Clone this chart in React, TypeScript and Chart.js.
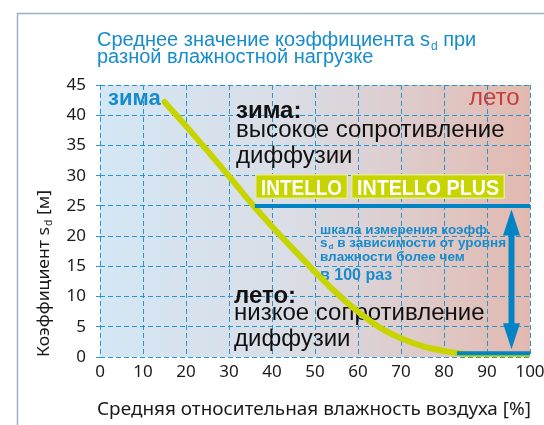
import React, { useEffect, useRef } from "react";
import { Chart, registerables } from "chart.js";
Chart.register(...registerables);

// ---- data ----
const humidity = [15, 20, 25, 30, 35, 40, 45, 50, 55, 60, 65, 70, 75, 80, 85, 90, 95, 100];
const sdValues = [42.2, 38.2, 34.1, 29.9, 25.6, 21.6, 17.8, 14.1, 10.6, 7.5, 4.9, 3.1, 1.8, 1.0, 0.5, 0.25, 0.1, 0];
const upperRangeX = [36, 100];
const upperRangeY = [25, 25];
const lowerRangeX = [83, 100];
const lowerRangeY = [0.6, 0.6];
const arrowX = [95.7, 95.7];
const arrowY = [24.4, 1.3];
const xMin = 0, xMax = 100, xStep = 10;
const yMin = 0, yMax = 45, yStep = 5;

const titleLine1 = ["Среднее значение коэффициента s", "d", " при"];
const titleLine2 = "разной влажностной нагрузке";
const yTitle = ["Коэффициент s", "d", " [м]"];
const xTitle = "Средняя относительная влажность воздуха [%]";
const winterTag = "зима";
const summerTag = "лето";
const winterText = ["зима:", "высокое сопротивление", "диффузии"];
const summerText = ["лето:", "низкое сопротивление", "диффузии"];
const productLabels = ["INTELLO", "INTELLO PLUS"];
const scaleNote = ["шкала измерения коэфф.", "в зависимости от уровня", "влажности более чем", "в 100 раз"];

const BLUE = "rgb(0,132,196)";
const TEXT_BLUE = "rgb(22,140,204)";
const YELLOW = "rgb(200,212,0)";
const SANS = '"Liberation Sans", Arial, sans-serif';
const TICKFONT = '"Noto Sans", sans-serif';

function drawSub(ctx: CanvasRenderingContext2D, parts: string[], x: number, y: number, size: number, weight = "", font = SANS) {
  ctx.font = `${weight} ${size}px ${font}`;
  ctx.fillText(parts[0], x, y);
  let w = ctx.measureText(parts[0]).width;
  ctx.font = `${weight} ${Math.round(size * 0.6)}px ${font}`;
  ctx.fillText(parts[1], x + w + 1, y + size * 0.18);
  w += ctx.measureText(parts[1]).width + 1;
  ctx.font = `${weight} ${size}px ${font}`;
  ctx.fillText(parts[2], x + w, y);
  return w + ctx.measureText(parts[2]).width;
}

function fitText(ctx: CanvasRenderingContext2D, text: string, cx: number, y: number, width: number) {
  const m = ctx.measureText(text).width;
  const s = width / m;
  ctx.save();
  ctx.translate(cx, y);
  ctx.scale(s, 1);
  ctx.textAlign = "center";
  ctx.fillText(text, 0, 0);
  ctx.restore();
}

const decor = {
  id: "decor",
  beforeDraw(chart: any) {
    const { ctx, chartArea: a } = chart;
    ctx.save();
    ctx.fillStyle = "#fff";
    ctx.fillRect(0, 0, chart.width, chart.height);
    const g = ctx.createLinearGradient(a.left, 0, a.right, 0);
    g.addColorStop(0, "rgb(212,231,245)");
    g.addColorStop(0.45, "rgb(218,221,229)");
    g.addColorStop(1, "rgb(226,185,176)");
    ctx.fillStyle = g;
    ctx.fillRect(a.left, a.top, a.right - a.left, a.bottom - a.top);
    // frame
    ctx.strokeStyle = "rgb(155,178,198)";
    ctx.lineWidth = 1.5;
    ctx.strokeRect(17.5, 13.5, 700, 700);
    // title
    ctx.fillStyle = TEXT_BLUE;
    ctx.textBaseline = "alphabetic";
    drawSub(ctx, titleLine1, 97, 46, 20);
    ctx.font = `20px ${SANS}`;
    ctx.fillText(titleLine2, 97, 63);
    // axis titles
    ctx.fillStyle = "#1a1a1a";
    ctx.save();
    ctx.translate(49, 357);
    ctx.rotate(-Math.PI / 2);
    ctx.textAlign = "left";
    // measure and compress to target length
    ctx.save();
    const w = (() => {
      ctx.globalAlpha = 0;
      const ww = drawSub(ctx, yTitle, 0, 0, 17, "", TICKFONT);
      ctx.globalAlpha = 1;
      return ww;
    })();
    ctx.restore();
    ctx.scale(167 / w, 1);
    ctx.fillStyle = "#1a1a1a";
    drawSub(ctx, yTitle, 0, 0, 17, "", TICKFONT);
    ctx.restore();
    ctx.font = `18px ${TICKFONT}`;
    ctx.fillStyle = "#1a1a1a";
    fitText(ctx, xTitle, 314, 415, 434);
    ctx.restore();
  },
  beforeDatasetsDraw(chart: any) {
    const { ctx } = chart;
    ctx.save();
    ctx.textBaseline = "alphabetic";
    ctx.textAlign = "left";
    // season tags
    ctx.fillStyle = TEXT_BLUE;
    ctx.font = `bold 22px ${SANS}`;
    ctx.fillText(winterTag, 108, 105);
    ctx.fillStyle = "rgb(196,62,62)";
    ctx.font = `24px ${SANS}`;
    ctx.fillText(summerTag, 469, 105);
    // winter block
    ctx.fillStyle = "#111";
    ctx.font = `bold 24px ${SANS}`;
    ctx.fillText(winterText[0], 236, 118);
    ctx.font = `24px ${SANS}`;
    ctx.fillText(winterText[1], 236, 137);
    ctx.fillText(winterText[2], 236, 163);
    // summer block
    ctx.font = `bold 24px ${SANS}`;
    ctx.fillText(summerText[0], 234, 303);
    ctx.font = `24px ${SANS}`;
    ctx.fillText(summerText[1], 234, 320);
    ctx.fillText(summerText[2], 234, 346);
    // product boxes
    const boxes = [[255, 348], [351, 505]];
    boxes.forEach(([l, r], i) => {
      ctx.fillStyle = YELLOW;
      ctx.fillRect(l, 174, r - l, 25);
      ctx.strokeStyle = "rgb(228,234,150)";
      ctx.lineWidth = 1.5;
      ctx.strokeRect(l + 0.75, 174.75, r - l - 1.5, 23.5);
      ctx.fillStyle = "#fff";
      ctx.font = `bold 22px ${SANS}`;
      fitText(ctx, productLabels[i], (l + r) / 2, 195, r - l - 12);
    });
    // scale note
    ctx.fillStyle = TEXT_BLUE;
    ctx.textAlign = "left";
    ctx.font = `bold 13.5px ${SANS}`;
    ctx.fillText(scaleNote[0], 320, 234);
    drawSub(ctx, ["s", "d", " " + scaleNote[1]], 320, 247, 13.5, "bold");
    ctx.font = `bold 13.5px ${SANS}`;
    ctx.fillText(scaleNote[2], 320, 260.5);
    ctx.font = `bold 16px ${SANS}`;
    ctx.fillText(scaleNote[3], 320, 280);
    ctx.restore();
  },
  afterDatasetsDraw(chart: any) {
    const { ctx } = chart;
    const pts = chart.getDatasetMeta(3).data;
    if (!pts || pts.length < 2) return;
    const top = pts[0], bot = pts[1];
    const x = top.x;
    const hl = 26, hw = 8.5;
    ctx.save();
    ctx.strokeStyle = BLUE;
    ctx.fillStyle = BLUE;
    ctx.lineWidth = 6;
    ctx.beginPath();
    ctx.moveTo(x, top.y + hl - 2);
    ctx.lineTo(x, bot.y - hl + 2);
    ctx.stroke();
    ctx.beginPath();
    ctx.moveTo(x, top.y);
    ctx.lineTo(x - hw, top.y + hl);
    ctx.lineTo(x + hw, top.y + hl);
    ctx.closePath();
    ctx.fill();
    ctx.beginPath();
    ctx.moveTo(x, bot.y);
    ctx.lineTo(x - hw, bot.y - hl);
    ctx.lineTo(x + hw, bot.y - hl);
    ctx.closePath();
    ctx.fill();
    ctx.restore();
  },
};

const App = () => {
  const ref = useRef<HTMLCanvasElement>(null);
  useEffect(() => {
    const canvas = ref.current!;
    const toPts = (xs: number[], ys: number[]) => xs.map((x, i) => ({ x, y: ys[i] }));
    const chart = new Chart(canvas, {
      type: "line",
      data: {
        datasets: [
          { data: toPts(humidity, sdValues), borderColor: YELLOW, borderWidth: 6, pointRadius: 0, cubicInterpolationMode: "monotone", borderCapStyle: "round", order: 3 } as any,
          { data: toPts(upperRangeX, upperRangeY), borderColor: BLUE, borderWidth: 4, pointRadius: 0, order: 1 },
          { data: toPts(lowerRangeX, lowerRangeY), borderColor: BLUE, borderWidth: 4, pointRadius: 0, order: 1 },
          { data: toPts(arrowX, arrowY), showLine: false, pointRadius: 0, order: 0 },
        ],
      },
      options: {
        responsive: false,
        animation: false,
        devicePixelRatio: 1,
        layout: { padding: { top: 85, left: 0, right: 14, bottom: 0 } },
        plugins: { legend: { display: false }, tooltip: { enabled: false }, title: { display: false } },
        scales: {
          x: {
            type: "linear",
            min: xMin,
            max: xMax,
            ticks: { stepSize: xStep, color: "#1a1a1a", font: { family: TICKFONT, size: 17 }, padding: 5, maxRotation: 0 },
            grid: { color: "rgba(30,145,210,0.95)", lineWidth: 1, drawTicks: false },
            border: { display: false, dash: [5, 3] },
            afterFit: (s: any) => { s.height = 68; s.paddingLeft = 0; s.paddingRight = 0; },
          },
          y: {
            type: "linear",
            min: yMin,
            max: yMax,
            ticks: { stepSize: yStep, color: "#1a1a1a", font: { family: TICKFONT, size: 17 }, padding: 10 },
            grid: { color: "rgba(30,145,210,0.95)", lineWidth: 1, tickLength: 4 },
            border: { display: false, dash: [5, 3] },
            afterFit: (s: any) => { s.width = 100; s.paddingTop = 0; s.paddingBottom = 0; },
          },
        },
      },
      plugins: [decor],
    });
    return () => chart.destroy();
  }, []);
  return (
    <div style={{ position: "fixed", left: 0, top: 0, width: 544, height: 425, background: "#fff" }}>
      <canvas ref={ref} width={544} height={425} style={{ display: "block", width: 544, height: 425 }} />
    </div>
  );
};

export default App;
